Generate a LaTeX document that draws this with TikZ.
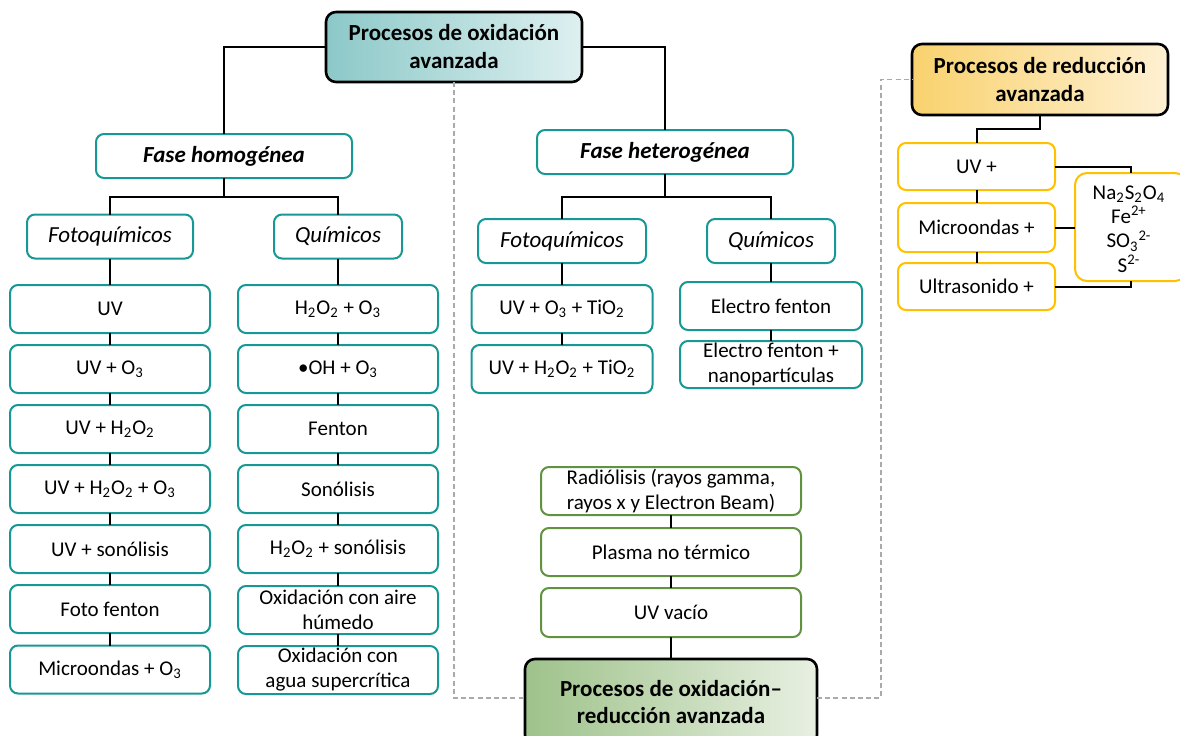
\documentclass[tikz,border=0pt]{standalone}
\usepackage{fontspec}
\setmainfont{Carlito}
\definecolor{tealc}{RGB}{24,152,148}
\definecolor{greenc}{RGB}{96,146,64}
\definecolor{goldc}{RGB}{255,192,0}
\definecolor{dashc}{RGB}{170,170,170}
\definecolor{tealA}{RGB}{140,200,200}
\definecolor{tealB}{RGB}{222,240,240}
\definecolor{goldA}{RGB}{249,210,110}
\definecolor{goldB}{RGB}{254,240,210}
\definecolor{grnA}{RGB}{158,194,138}
\definecolor{grnB}{RGB}{232,240,226}
\begin{document}
\begin{tikzpicture}[x=0.5pt,y=-0.5pt,
  base/.style={rounded corners=4pt, line width=1pt, inner sep=0pt, outer sep=0pt,
    align=center, fill=white, font=\fontsize{10.5}{12.5}\selectfont},
  tbox/.style={base, draw=tealc},
  gbox/.style={base, draw=greenc, minimum width=130pt, minimum height=24pt},
  ybox/.style={base, draw=goldc, minimum width=78.5pt, minimum height=24pt},
  colbox/.style={tbox, minimum width=100pt, minimum height=24pt},
  hetbox/.style={tbox, minimum width=90.5pt, minimum height=24pt},
  ital/.style={tbox, minimum height=22pt, font=\itshape\fontsize{11.5}{14}\selectfont},
  phase/.style={tbox, minimum width=128pt, minimum height=22pt,
    font=\bfseries\itshape\fontsize{11.5}{14}\selectfont},
  head/.style={rounded corners=5pt, line width=1.3pt, draw=black, inner sep=0pt,
    outer sep=0pt, align=center, font=\bfseries\fontsize{11.5}{14}\selectfont},
  link/.style={line width=1pt, draw=black},
  dashlink/.style={line width=0.7pt, draw=dashc, dash pattern=on 2.5pt off 1.6pt}]
\useasboundingbox (0,0) rectangle (1180,735);
\clip (0,0) rectangle (1180,735);

% ---- heads ----
\node[head, left color=tealA, right color=tealB, minimum width=128pt, minimum height=35pt]
  (top) at (454,47) {Procesos de oxidación\\avanzada};
\node[head, left color=goldA, right color=goldB, minimum width=128pt, minimum height=35.5pt]
  (red) at (1040,79.5) {Procesos de reducción\\avanzada};
\node[head, left color=grnA, right color=grnB, minimum width=146pt, minimum height=43pt,
  font=\bfseries\fontsize{11.5}{13.5}\selectfont]
  (grn) at (671,702) {Procesos de oxidación–\\reducción avanzada};

% ---- homogeneous phase ----
\node[phase] (fh) at (224,156) {Fase homogénea};
\node[ital, minimum width=83pt] (fq1) at (110,236.5) {Fotoquímicos};
\node[ital, minimum width=64pt] (q1) at (338,236.5) {Químicos};

\node[colbox] (a1) at (110,309) {UV};
\node[colbox] (a2) at (110,369) {UV + O\textsubscript{3}};
\node[colbox] (a3) at (110,429) {UV + H\textsubscript{2}O\textsubscript{2}};
\node[colbox] (a4) at (110,489) {UV + H\textsubscript{2}O\textsubscript{2} + O\textsubscript{3}};
\node[colbox] (a5) at (110,549) {UV + sonólisis};
\node[colbox] (a6) at (110,609) {Foto fenton};
\node[colbox] (a7) at (110,669.5) {Microondas + O\textsubscript{3}};

\node[colbox] (b1) at (338,309) {H\textsubscript{2}O\textsubscript{2} + O\textsubscript{3}};
\node[colbox] (b2) at (338,369) {•OH + O\textsubscript{3}};
\node[colbox] (b3) at (338,429) {Fenton};
\node[colbox] (b4) at (338,489) {Sonólisis};
\node[colbox] (b5) at (338,549) {H\textsubscript{2}O\textsubscript{2} + sonólisis};
\node[colbox] (b6) at (338,610) {Oxidación con aire\\húmedo};
\node[colbox] (b7) at (338,670) {Oxidación con\\agua supercrítica};

% ---- heterogeneous phase ----
\node[phase] (fhet) at (665,152) {Fase heterogénea};
\node[ital, minimum width=84pt] (fq2) at (562,241) {Fotoquímicos};
\node[ital, minimum width=64pt] (q2) at (771,241) {Químicos};
\node[hetbox] (c1) at (562,309) {UV + O\textsubscript{3} + TiO\textsubscript{2}};
\node[hetbox] (c2) at (562,369) {UV + H\textsubscript{2}O\textsubscript{2} + TiO\textsubscript{2}};
\node[hetbox, minimum width=91pt] (d1) at (771,306) {Electro fenton};
\node[hetbox, minimum width=91pt, minimum height=23.5pt] (d2) at (771,364.5)
  {Electro fenton +\\nanopartículas};

% ---- oxidation-reduction ----
\node[gbox] (g1) at (671,491) {Radiólisis (rayos gamma,\\rayos x y Electron Beam)};
\node[gbox] (g2) at (671,552) {Plasma no térmico};
\node[gbox, minimum height=24.5pt] (g3) at (671,612.5) {UV vacío};

% ---- reduction ----
\node[ybox, minimum height=23.5pt] (r1) at (976.5,166.5) {UV +};
\node[ybox, minimum height=24.5pt] (r2) at (976.5,227.5) {Microondas +};
\node[ybox, minimum height=23.5pt] (r3) at (976.5,286.5) {Ultrasonido +};
\node[ybox, rounded corners=6pt, minimum width=56pt, minimum height=54pt] (chem) at (1131,227) {};
\node[font=\fontsize{10.5}{12.2}\selectfont, align=center] (chemtxt) at (1129,229)
  {Na\textsubscript{2}S\textsubscript{2}O\textsubscript{4}\\Fe\textsuperscript{2+}\\SO\textsubscript{3}\textsuperscript{2-}\\S\textsuperscript{2-}};

% ---- connectors ----
\coordinate (jh) at (224,197);
\coordinate (jhet) at (665,197);
\draw[link] (top.west) -| (fh.north);
\draw[link] (top.east) -| (fhet.north);
\draw[link] (fh.south) -- (jh);
\draw[link] (fq1.north) |- (jh) -| (q1.north);
\draw[link] (fhet.south) -- (jhet);
\draw[link] (fq2.north) |- (jhet) -| (q2.north);

\draw[link] (fq1.south) -- (a1.north);
\foreach \u/\v in {a1/a2,a2/a3,a3/a4,a4/a5,a5/a6,a6/a7,
                   b1/b2,b2/b3,b3/b4,b4/b5,b5/b6,b6/b7,
                   c1/c2,d1/d2,g1/g2,g2/g3,r1/r2,r2/r3}
  \draw[link] (\u.south) -- (\v.north);
\draw[link] (q1.south) -- (b1.north);
\draw[link] (fq2.south) -- (c1.north);
\draw[link] (q2.south) -- (d1.north);
\draw[link] (g3.south) -- (grn.north);

\draw[link] (red.south) -- ++(0,14) -| (r1.north);
\draw[link] (r1.east) -| (chem.north);
\draw[link] (r2.east) -- (r2.east -| chem.west);
\draw[link] (r3.east) -| (chem.south);

% ---- dashed frame ----
\coordinate (dl) at (454,698);
\coordinate (dr) at (881,698);
\draw[dashlink] (dl |- top.south) -- (dl) -- (dl -| grn.west);
\draw[dashlink] (grn.east |- dr) -- (dr) |- (red.west);
\end{tikzpicture}
\end{document}
